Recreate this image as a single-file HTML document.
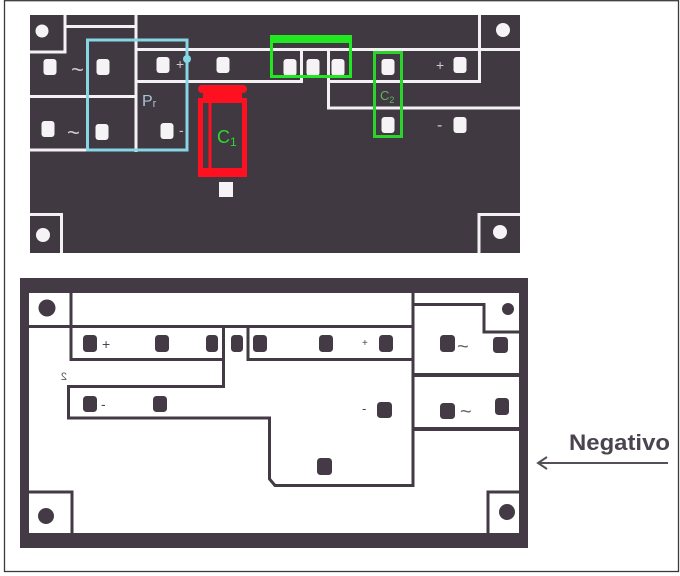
<!DOCTYPE html>
<html><head><meta charset="utf-8"><style>
html,body{margin:0;padding:0;background:#fff;}
svg{display:block;}
</style></head><body>
<svg width="680" height="576" viewBox="0 0 680 576" xmlns="http://www.w3.org/2000/svg">
<rect x="0" y="0" width="680" height="576" fill="#fff"/>
<rect x="4.5" y="0.7" width="674" height="570.8" fill="none" stroke="#3a3a3a" stroke-width="1.3"/>

<!-- ================= TOP BOARD ================= -->
<rect x="30" y="15" width="490" height="238" fill="#403941"/>
<g stroke="#f3f1f4" stroke-width="3" fill="none">
  <path d="M65 15 V52 H30"/>
  <path d="M65 26.5 H136"/>
  <path d="M136 15 V152"/>
  <path d="M30 96.5 H136"/>
  <path d="M30 150 H136"/>
  <path d="M136 49.5 H520"/>
  <path d="M136 81.5 H301.5 V49.5"/>
  <path d="M328.5 49.5 V108 H520"/>
  <path d="M328.5 81.5 H479.5 V15"/>
  <path d="M61.5 253 V214.5 H30"/>
  <path d="M479 253 V214.5 H520"/>
</g>
<g fill="#f6f3f7">
  <circle cx="42" cy="31" r="6.5"/>
  <circle cx="503" cy="30" r="7"/>
  <circle cx="43" cy="235" r="7"/>
  <circle cx="500" cy="232" r="7"/>
  <rect x="43.5" y="59" width="13" height="16" rx="3"/>
  <rect x="96.5" y="59" width="13" height="16" rx="3"/>
  <rect x="41.5" y="121" width="13" height="16" rx="3"/>
  <rect x="95.5" y="124" width="13" height="16" rx="3"/>
  <rect x="156.5" y="57" width="13" height="16" rx="3"/>
  <rect x="216.5" y="57" width="13" height="16" rx="3"/>
  <rect x="283.5" y="59" width="13" height="17" rx="3"/>
  <rect x="306.5" y="59" width="13" height="17" rx="3"/>
  <rect x="331.5" y="59" width="13" height="17" rx="3"/>
  <rect x="381.5" y="59" width="13" height="16" rx="3"/>
  <rect x="453.5" y="57" width="13" height="16" rx="3"/>
  <rect x="160.5" y="123" width="13" height="16" rx="3"/>
  <rect x="381.5" y="117" width="13" height="16" rx="3"/>
  <rect x="453.5" y="117" width="13" height="16" rx="3"/>
  <rect x="219" y="182" width="14" height="15"/>
</g>
<g font-family="Liberation Sans, sans-serif" fill="#cfcad2">
  <text x="71" y="77" font-size="22">~</text>
  <text x="67" y="140" font-size="22">~</text>
  <text x="176" y="69" font-size="14">+</text>
  <text x="179" y="135" font-size="14">-</text>
  <text x="436" y="70" font-size="14">+</text>
  <text x="437" y="130" font-size="16">-</text>
</g>
<!-- cyan bridge box -->
<rect x="87.5" y="40" width="99.5" height="110" fill="none" stroke="#86d6e6" stroke-width="3"/>
<circle cx="187" cy="59" r="4" fill="#86d6e6"/>
<text x="142" y="106" font-family="Liberation Sans, sans-serif" font-size="16" fill="#a6c4d4">P<tspan font-size="11" dy="1">r</tspan></text>
<!-- red C1 -->
<g fill="#ff1020">
  <rect x="198" y="85" width="49" height="8" rx="4"/>
  <rect x="203" y="91" width="39" height="10"/>
  <rect x="198" y="168" width="49" height="9"/>
</g>
<rect x="200.5" y="100.5" width="44" height="72" fill="none" stroke="#ff1020" stroke-width="5"/>
<line x1="210" y1="101" x2="210" y2="170" stroke="#ff1020" stroke-width="3"/>
<text x="217" y="143" font-family="Liberation Sans, sans-serif" font-size="18" fill="#2cd82c">C<tspan font-size="12" dy="3">1</tspan></text>
<!-- green regulator -->
<rect x="271.5" y="38" width="79" height="38.5" fill="none" stroke="#22e822" stroke-width="3"/>
<rect x="270" y="35" width="82" height="8" fill="#22e822"/>
<!-- green C2 -->
<rect x="374.5" y="52.5" width="27" height="84" fill="none" stroke="#2ad42a" stroke-width="3"/>
<text x="380" y="100" font-family="Liberation Sans, sans-serif" font-size="13" fill="#5cb85c">C<tspan font-size="9" dy="3">2</tspan></text>

<!-- ================= BOTTOM BOARD ================= -->
<rect x="20" y="278" width="508" height="270" fill="#433a46"/>
<rect x="29" y="293" width="490" height="240" fill="#fff"/>
<g stroke="#433a46" stroke-width="3" fill="none">
  <path d="M29 326.5 H413"/>
  <path d="M71 293 V359.5 H223.5 V326"/>
  <path d="M223.5 359.5 V386.5 H68.5 V418 H269.5 V479 L275 485.5 H413"/>
  <path d="M248 326 V359.5 H413"/>
  <path d="M413 293 V487"/>
  <path d="M413 304.5 H484 V332 H519"/>
  <path d="M29 492 H72 V533"/>
  <path d="M519 492 H488 V533"/>
</g>
<rect x="413" y="373" width="106" height="4" fill="#433a46"/>
<rect x="413" y="427" width="106" height="4" fill="#433a46"/>
<g fill="#433a46">
  <circle cx="47" cy="308" r="8.5"/>
  <circle cx="46" cy="516" r="8"/>
  <circle cx="508" cy="309" r="6"/>
  <circle cx="507" cy="512" r="8"/>
  <rect x="83" y="335" width="14" height="17" rx="3.5"/>
  <rect x="155" y="335" width="14" height="17" rx="3.5"/>
  <rect x="206" y="335" width="12" height="17" rx="3.5"/>
  <rect x="231" y="335" width="12" height="17" rx="3.5"/>
  <rect x="253" y="335" width="14" height="17" rx="3.5"/>
  <rect x="319" y="335" width="14" height="17" rx="3.5"/>
  <rect x="379" y="335" width="14" height="17" rx="3.5"/>
  <rect x="83" y="396" width="14" height="16" rx="3.5"/>
  <rect x="153" y="396" width="14" height="16" rx="3.5"/>
  <rect x="377" y="402" width="15" height="16" rx="3.5"/>
  <rect x="317" y="458" width="15" height="17" rx="3.5"/>
  <rect x="440" y="335" width="15" height="17" rx="3.5"/>
  <rect x="493" y="337" width="15" height="16" rx="3.5"/>
  <rect x="440" y="403" width="15" height="16" rx="3.5"/>
  <rect x="495" y="398" width="14" height="17" rx="3.5"/>
</g>
<g font-family="Liberation Sans, sans-serif" fill="#4a4450">
  <text x="102" y="349" font-size="14">+</text>
  <text x="101" y="409" font-size="14">-</text>
  <text x="362" y="346" font-size="10">+</text>
  <text x="362" y="413" font-size="13">-</text>
  <text x="457" y="353" font-size="20" fill="#6a6470">~</text>
  <text x="460" y="418" font-size="20" fill="#6a6470">~</text>
  <text x="-67" y="380" font-size="11" fill="#5a5460" transform="scale(-1,1)">2</text>
</g>

<!-- Negativo label + arrow -->
<text x="569" y="450" font-family="Liberation Sans, sans-serif" font-weight="bold" font-size="22" fill="#4a4450" textLength="101" lengthAdjust="spacingAndGlyphs">Negativo</text>
<line x1="538" y1="463" x2="668" y2="463" stroke="#555058" stroke-width="2"/>
<path d="M547 457 L538 463 L547 469" fill="none" stroke="#555058" stroke-width="2"/>
</svg>
</body></html>
